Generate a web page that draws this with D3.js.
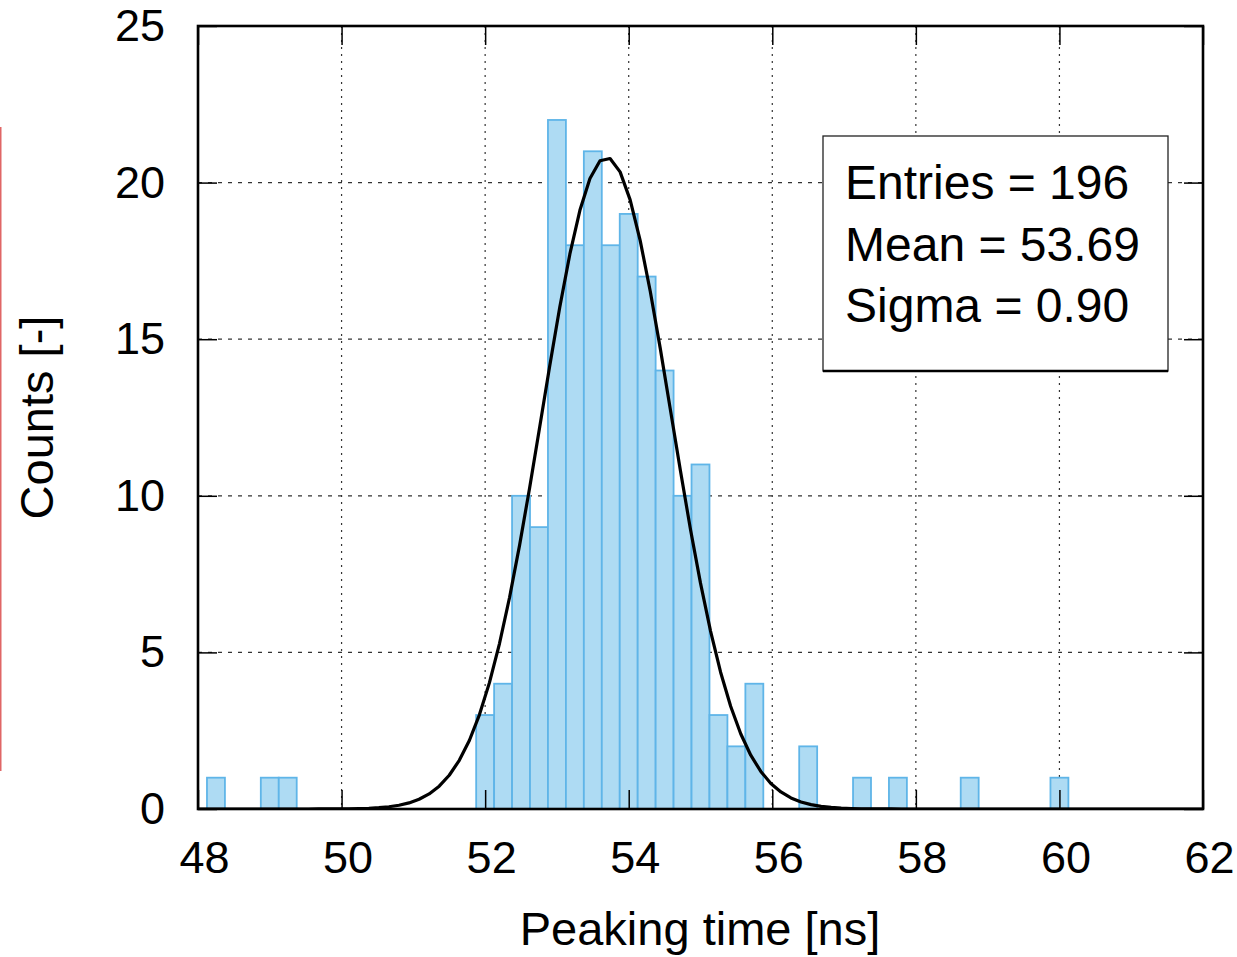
<!DOCTYPE html>
<html>
<head>
<meta charset="utf-8">
<script src="https://cdn.jsdelivr.net/npm/d3@7"></script>
<style>
  html, body { margin: 0; padding: 0; background: #fff; }
  svg { display: block; }
  text { font-family: "Liberation Sans", Arial, Helvetica, sans-serif; fill: #000; }
</style>
</head>
<body>
<svg id="chart" width="1237" height="957"></svg>
<script>
// ---- data ----
const binCenters = [48.25, 49.0, 49.25, 52.0, 52.25, 52.5, 52.75, 53.0, 53.25, 53.5, 53.75, 54.0, 54.25, 54.5, 54.75, 55.0, 55.25, 55.5, 55.75, 56.5, 57.25, 57.75, 58.75, 60.0];
const binCounts  = [1,     1,    1,     3,    4,     10,   9,     22,   18,    21,   18,    19,   17,    14,   10,    11,   3,     2,    4,     2,    1,     1,     1,     1];
const binWidth = 0.25;
const xTicks = [48, 50, 52, 54, 56, 58, 60, 62];
const yTicks = [0, 5, 10, 15, 20, 25];
const statLines = ["Entries = 196", "Mean = 53.69", "Sigma = 0.90"];
const fitAmplitude = 20.8;
const fitMean = 53.69;
const fitSigma = 0.90;
const xTitle = "Peaking time [ns]";
const yTitle = "Counts [-]";

// ---- layout ----
const L = 198, R = 1203, T = 26, B = 809;
const svg = d3.select("#chart");
const x = d3.scaleLinear().domain([48, 62]).range([L, R]);
const y = d3.scaleLinear().domain([0, 25]).range([B, T]);

// red edge line (artifact in reference)
svg.append("line").attr("x1", 0.75).attr("x2", 0.75).attr("y1", 127).attr("y2", 771)
  .attr("stroke", "#e06666").attr("stroke-width", 1.5);

// grid
const grid = svg.append("g");
grid.selectAll(".gx").data(xTicks.filter(d => d > 48 && d < 62)).join("line")
  .attr("x1", d => x(d)).attr("x2", d => x(d)).attr("y1", T).attr("y2", B)
  .attr("stroke", "#333").attr("stroke-width", 1.2).attr("stroke-dasharray", "2,5");
grid.selectAll(".gy").data(yTicks.filter(d => d > 0 && d < 25)).join("line")
  .attr("x1", L).attr("x2", R).attr("y1", d => y(d)).attr("y2", d => y(d))
  .attr("stroke", "#333").attr("stroke-width", 1.2).attr("stroke-dasharray", "4,6");

// bars
const bars = binCenters.map((c, i) => ({c, n: binCounts[i]}));
svg.append("g").selectAll("rect").data(bars).join("rect")
  .attr("x", d => x(d.c - binWidth / 2))
  .attr("width", d => x(d.c + binWidth / 2) - x(d.c - binWidth / 2))
  .attr("y", d => y(d.n))
  .attr("height", d => y(0) - y(d.n))
  .attr("fill", "#aedbf3")
  .attr("stroke", "#5fb5e8")
  .attr("stroke-width", 1.8);

// fit curve (Gaussian with fitted parameters), sampled like gnuplot
const nSamples = 100;
const samples = d3.range(nSamples + 1).map(i => {
  const xv = 48 + (62 - 48) * i / nSamples;
  return [xv, fitAmplitude * Math.exp(-0.5 * Math.pow((xv - fitMean) / fitSigma, 2))];
});
svg.append("defs").append("clipPath").attr("id", "clip")
  .append("rect").attr("x", L).attr("y", T).attr("width", R - L).attr("height", B - T);
svg.append("path").datum(samples)
  .attr("clip-path", "url(#clip)")
  .attr("d", d3.line().x(d => x(d[0])).y(d => y(d[1])))
  .attr("fill", "none").attr("stroke", "#000").attr("stroke-width", 3.2)
  .attr("stroke-linejoin", "round");

// stat box
const bx = 823, by = 136, bw = 345, bh = 235;
svg.append("rect").attr("x", bx).attr("y", by).attr("width", bw).attr("height", bh)
  .attr("fill", "#fff").attr("stroke", "#222").attr("stroke-width", 1.3);
svg.append("line").attr("x1", bx).attr("x2", bx + bw).attr("y1", by + bh).attr("y2", by + bh)
  .attr("stroke", "#000").attr("stroke-width", 2.4);
svg.append("g").selectAll("text").data(statLines).join("text")
  .attr("x", 845).attr("y", (d, i) => 199 + i * 61.5)
  .attr("font-size", 48).text(d => d);

// axes (inward ticks)
const fontTick = 45;
const ax = svg.append("g").attr("transform", `translate(0,${B})`)
  .call(d3.axisBottom(x).tickValues(xTicks).tickSize(-19).tickPadding(32).tickFormat(d3.format("d")));
const ay = svg.append("g").attr("transform", `translate(${L},0)`)
  .call(d3.axisLeft(y).tickValues(yTicks).tickSize(-19).tickPadding(33).tickFormat(d3.format("d")));
const at = svg.append("g").attr("transform", `translate(0,${T})`)
  .call(d3.axisTop(x).tickValues(xTicks).tickSize(-19).tickFormat(""));
const ar = svg.append("g").attr("transform", `translate(${R},0)`)
  .call(d3.axisRight(y).tickValues(yTicks).tickSize(-19).tickFormat(""));
[ax, ay, at, ar].forEach(g => {
  g.select(".domain").remove();
  g.selectAll(".tick line").attr("stroke", "#000").attr("stroke-width", 1.5);
  g.selectAll(".tick text").attr("font-size", fontTick)
    .attr("font-family", "'Liberation Sans', Arial, sans-serif").attr("fill", "#000");
});
ax.selectAll(".tick text").attr("dx", 6);

// frame
svg.append("rect").attr("x", L).attr("y", T).attr("width", R - L).attr("height", B - T)
  .attr("fill", "none").attr("stroke", "#000").attr("stroke-width", 2.6);

// titles
svg.append("text").attr("x", 700).attr("y", 945).attr("text-anchor", "middle")
  .attr("font-size", 47).text(xTitle);
svg.append("text").attr("transform", "translate(53,417.5) rotate(-90)")
  .attr("text-anchor", "middle").attr("font-size", 47).text(yTitle);
</script>
</body>
</html>
